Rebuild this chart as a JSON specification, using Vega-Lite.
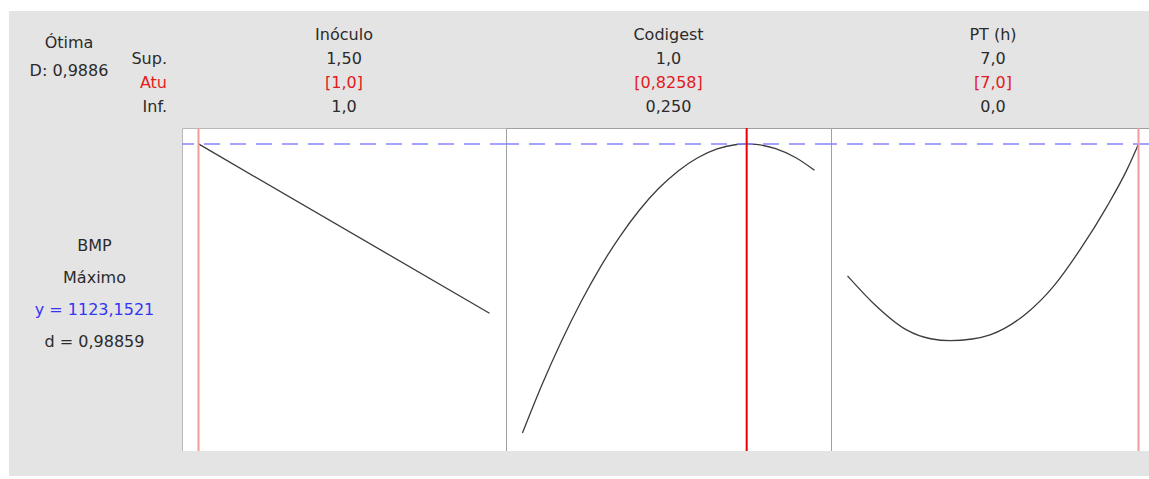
{
  "$schema": "https://vega.github.io/schema/vega-lite/v6.json",
  "background": "white",
  "padding": {"left": 9, "top": 11, "right": 0, "bottom": 3},
  "config": {
    "concat": {"spacing": 0},
    "text": {"font": "DejaVu Sans", "fontSize": 16, "baseline": "middle"}
  },
  "datasets": {
    "headers": [
      {"panel": "left", "row": "sup", "text": "Sup."},
      {"panel": "left", "row": "atu", "text": "Atu"},
      {"panel": "left", "row": "inf", "text": "Inf."},
      {"panel": "Inóculo", "row": "name", "text": "Inóculo"},
      {"panel": "Inóculo", "row": "sup", "text": "1,50"},
      {"panel": "Inóculo", "row": "atu", "text": "[1,0]"},
      {"panel": "Inóculo", "row": "inf", "text": "1,0"},
      {"panel": "Codigest", "row": "name", "text": "Codigest"},
      {"panel": "Codigest", "row": "sup", "text": "1,0"},
      {"panel": "Codigest", "row": "atu", "text": "[0,8258]"},
      {"panel": "Codigest", "row": "inf", "text": "0,250"},
      {"panel": "PT", "row": "name", "text": "PT (h)"},
      {"panel": "PT", "row": "sup", "text": "7,0"},
      {"panel": "PT", "row": "atu", "text": "[7,0]"},
      {"panel": "PT", "row": "inf", "text": "0,0"}
    ],
    "optimum": [
      {"line": 0, "text": "Ótima"},
      {"line": 1, "text": "D: 0,9886"}
    ],
    "response": [
      {"line": 0, "text": "BMP"},
      {"line": 1, "text": "Máximo"},
      {"line": 2, "text": "y = 1123,1521", "kind": "y"},
      {"line": 3, "text": "d = 0,98859"}
    ],
    "inoculo": [
      {"level": 1.0, "bmp": 1123.15},
      {"level": 1.5, "bmp": 784.5}
    ],
    "codigest": [
      {"level": 0.25, "bmp": 545.2},
      {"level": 0.30, "bmp": 641.4},
      {"level": 0.35, "bmp": 728.4},
      {"level": 0.40, "bmp": 806.9},
      {"level": 0.45, "bmp": 876.9},
      {"level": 0.50, "bmp": 937.9},
      {"level": 0.55, "bmp": 990.5},
      {"level": 0.60, "bmp": 1034.4},
      {"level": 0.65, "bmp": 1069.2},
      {"level": 0.70, "bmp": 1095.6},
      {"level": 0.75, "bmp": 1113.2},
      {"level": 0.80, "bmp": 1122.0},
      {"level": 0.8258, "bmp": 1123.15},
      {"level": 0.85, "bmp": 1122.2},
      {"level": 0.90, "bmp": 1113.6},
      {"level": 0.95, "bmp": 1096.4},
      {"level": 1.00, "bmp": 1070.4}
    ],
    "pt": [
      {"level": 0.0, "bmp": 859.2},
      {"level": 0.62, "bmp": 804.6},
      {"level": 1.42, "bmp": 751.2},
      {"level": 2.0, "bmp": 733.5},
      {"level": 2.47, "bmp": 729.8},
      {"level": 3.0, "bmp": 733.0},
      {"level": 3.43, "bmp": 741.2},
      {"level": 4.31, "bmp": 784.6},
      {"level": 4.95, "bmp": 837.8},
      {"level": 5.59, "bmp": 911.2},
      {"level": 6.24, "bmp": 997.8},
      {"level": 6.72, "bmp": 1071.2},
      {"level": 7.0, "bmp": 1123.15}
    ]
  },
  "columns": 4,
  "spacing": 0,
  "bounds": "flush",
  "concat": [
    {
      "width": 173,
      "height": 117,
      "view": {"fill": "#e4e4e4", "stroke": null},
      "layer": [
        {
          "data": {"name": "optimum"},
          "mark": {"type": "text", "color": "#2b2b2b", "dx": -26.5},
          "encoding": {
            "y": {"field": "line", "type": "quantitative", "scale": {"domain": [-1.1429, 3.0357], "reverse": true, "nice": false, "zero": false}, "axis": null},
            "text": {"field": "text"}
          }
        },
        {
          "data": {"name": "headers"},
          "transform": [{"filter": "datum.panel === 'left'"}],
          "mark": {"type": "text", "align": "right", "dx": 71.5},
          "encoding": {
            "y": {"field": "row", "type": "ordinal", "scale": {"type": "point", "domain": ["name", "sup", "atu", "inf"], "padding": 0.9375, "align": 0.533}, "axis": null},
            "text": {"field": "text"},
            "color": {"condition": {"test": "datum.row === 'atu'", "value": "#e31a1c"}, "value": "#2b2b2b"}
          }
        }
      ],
      "resolve": {"scale": {"y": "independent"}}
    },
    {
      "width": 324,
      "height": 117,
      "view": {"fill": "#e4e4e4", "stroke": null},
      "data": {"name": "headers"},
      "transform": [{"filter": "datum.panel === 'Inóculo'"}],
      "mark": {"type": "text"},
      "encoding": {
        "y": {"field": "row", "type": "ordinal", "scale": {"type": "point", "domain": ["name", "sup", "atu", "inf"], "padding": 0.9375, "align": 0.533}, "axis": null},
        "text": {"field": "text"},
        "color": {"condition": {"test": "datum.row === 'atu'", "value": "#e31a1c"}, "value": "#2b2b2b"}
      }
    },
    {
      "width": 325,
      "height": 117,
      "view": {"fill": "#e4e4e4", "stroke": null},
      "data": {"name": "headers"},
      "transform": [{"filter": "datum.panel === 'Codigest'"}],
      "mark": {"type": "text"},
      "encoding": {
        "y": {"field": "row", "type": "ordinal", "scale": {"type": "point", "domain": ["name", "sup", "atu", "inf"], "padding": 0.9375, "align": 0.533}, "axis": null},
        "text": {"field": "text"},
        "color": {"condition": {"test": "datum.row === 'atu'", "value": "#e31a1c"}, "value": "#2b2b2b"}
      }
    },
    {
      "width": 318,
      "height": 117,
      "view": {"fill": "#e4e4e4", "stroke": null},
      "data": {"name": "headers"},
      "transform": [{"filter": "datum.panel === 'PT'"}],
      "mark": {"type": "text", "dx": 3},
      "encoding": {
        "y": {"field": "row", "type": "ordinal", "scale": {"type": "point", "domain": ["name", "sup", "atu", "inf"], "padding": 0.9375, "align": 0.533}, "axis": null},
        "text": {"field": "text"},
        "color": {"condition": {"test": "datum.row === 'atu'", "value": "#e31a1c"}, "value": "#2b2b2b"}
      }
    },
    {
      "width": 173,
      "height": 323,
      "view": {"fill": "#e4e4e4", "stroke": null},
      "data": {"name": "response"},
      "mark": {"type": "text", "dx": -1},
      "encoding": {
        "y": {"field": "line", "type": "quantitative", "scale": {"domain": [-3.6875, 6.40625], "reverse": true, "nice": false, "zero": false}, "axis": null},
        "text": {"field": "text"},
        "color": {"condition": {"test": "datum.kind === 'y'", "value": "#3434f5"}, "value": "#2b2b2b"}
      }
    },
    {
      "width": 324,
      "height": 323,
      "view": {"fill": "white", "stroke": "#b8b8b8"},
      "layer": [
        {
          "data": {"name": "inoculo"},
          "mark": {"type": "line", "color": "#3c3c3c", "strokeWidth": 1.3},
          "encoding": {
            "x": {"field": "level", "type": "quantitative", "scale": {"domain": [0.97165, 1.52835], "nice": false, "zero": false}, "axis": null},
            "y": {"field": "bmp", "type": "quantitative", "scale": {"domain": [509, 1155], "nice": false, "zero": false}, "axis": null}
          }
        },
        {
          "data": {"values": [{}]},
          "mark": {"type": "rule", "color": "#8585ff", "strokeWidth": 1.5, "strokeDash": [16, 10]},
          "encoding": {"y": {"datum": 1123.15}}
        },
        {
          "data": {"values": [{}]},
          "mark": {"type": "rule", "color": "#f09a9a", "strokeWidth": 2},
          "encoding": {"x": {"datum": 1.0}}
        }
      ]
    },
    {
      "width": 325,
      "height": 323,
      "view": {"fill": "white", "stroke": "#a0a0a0"},
      "layer": [
        {
          "data": {"name": "codigest"},
          "mark": {"type": "line", "color": "#3c3c3c", "strokeWidth": 1.3, "interpolate": "monotone"},
          "encoding": {
            "x": {"field": "level", "type": "quantitative", "scale": {"domain": [0.2076, 1.0424], "nice": false, "zero": false}, "axis": null},
            "y": {"field": "bmp", "type": "quantitative", "scale": {"domain": [509, 1155], "nice": false, "zero": false}, "axis": null}
          }
        },
        {
          "data": {"values": [{}]},
          "mark": {"type": "rule", "color": "#8585ff", "strokeWidth": 1.5, "strokeDash": [16, 10]},
          "encoding": {"y": {"datum": 1123.15}}
        },
        {
          "data": {"values": [{}]},
          "mark": {"type": "rule", "color": "#e80000", "strokeWidth": 2},
          "encoding": {"x": {"datum": 0.8258}}
        }
      ]
    },
    {
      "width": 318,
      "height": 323,
      "view": {"fill": "white", "stroke": "#a0a0a0"},
      "layer": [
        {
          "data": {"name": "pt"},
          "mark": {"type": "line", "color": "#3c3c3c", "strokeWidth": 1.3, "interpolate": "monotone"},
          "encoding": {
            "x": {"field": "level", "type": "quantitative", "scale": {"domain": [-0.397, 7.2526], "nice": false, "zero": false}, "axis": null},
            "y": {"field": "bmp", "type": "quantitative", "scale": {"domain": [509, 1155], "nice": false, "zero": false}, "axis": null}
          }
        },
        {
          "data": {"values": [{}]},
          "mark": {"type": "rule", "color": "#8585ff", "strokeWidth": 1.5, "strokeDash": [16, 10]},
          "encoding": {"y": {"datum": 1123.15}}
        },
        {
          "data": {"values": [{}]},
          "mark": {"type": "rule", "color": "#f09a9a", "strokeWidth": 2},
          "encoding": {"x": {"datum": 7.0}}
        }
      ]
    },
    {
      "width": 173, "height": 25,
      "view": {"fill": "#e4e4e4", "stroke": null},
      "data": {"values": [{}]},
      "mark": {"type": "text", "text": ""},
      "encoding": {}
    },
    {
      "width": 324, "height": 25,
      "view": {"fill": "#e4e4e4", "stroke": null},
      "data": {"values": [{}]},
      "mark": {"type": "text", "text": ""},
      "encoding": {}
    },
    {
      "width": 325, "height": 25,
      "view": {"fill": "#e4e4e4", "stroke": null},
      "data": {"values": [{}]},
      "mark": {"type": "text", "text": ""},
      "encoding": {}
    },
    {
      "width": 318, "height": 25,
      "view": {"fill": "#e4e4e4", "stroke": null},
      "data": {"values": [{}]},
      "mark": {"type": "text", "text": ""},
      "encoding": {}
    }
  ]
}
